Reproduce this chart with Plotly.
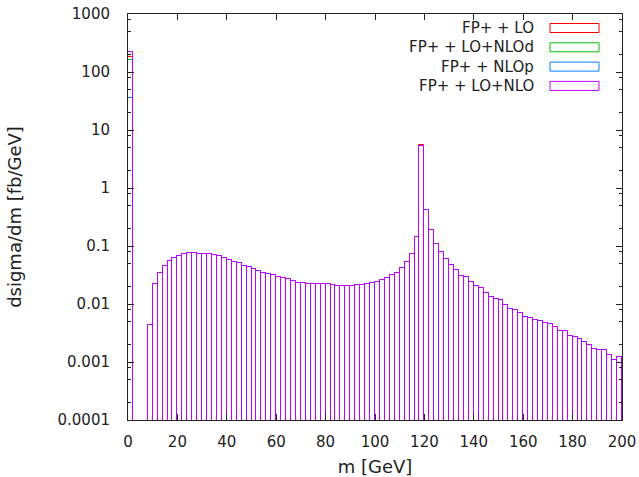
import plotly.graph_objects as go

# histogram: 2 GeV bins from 0 to 200 GeV, bin centres
mass = [1 + 2 * i for i in range(100)]

# FP++ LO+NLO (drawn on top, hides the other three nearly everywhere)
lo_nlo = [
    218, None, None, None, 0.0043, 0.0221, 0.0342, 0.0457, 0.0551, 0.0621,
    0.068, 0.0728, 0.0757, 0.0768, 0.0737, 0.0737, 0.0718, 0.0699, 0.0662, 0.0621,
    0.0563, 0.0535, 0.0503, 0.0457, 0.044, 0.0406, 0.037, 0.0347, 0.0329, 0.0311,
    0.0292, 0.0277, 0.0266, 0.0246, 0.0233, 0.0227, 0.0222, 0.0218, 0.0218, 0.0218,
    0.0217, 0.0216, 0.0208, 0.0207, 0.0206, 0.0207, 0.0209, 0.0215, 0.0224, 0.0233,
    0.0242, 0.026, 0.0281, 0.0311, 0.0342, 0.0411, 0.052, 0.0737, 0.145, 5.2,
    0.418, 0.188, 0.110, 0.0788, 0.0604, 0.0476, 0.038, 0.0304, 0.0292, 0.0239,
    0.0204, 0.0186, 0.0157, 0.013, 0.012, 0.0115, 0.0096, 0.0083, 0.0079, 0.0071,
    0.006, 0.0057, 0.0052, 0.005, 0.0047, 0.0046, 0.004, 0.0034, 0.0034, 0.0028,
    0.0027, 0.0025, 0.0022, 0.002, 0.0017, 0.0016, 0.0016, 0.0013, 0.0011, 0.0012,
]

# the other curves only show where they stick out: first bin and the peak
lo = list(lo_nlo)
lo[0], lo[59] = 181, 5.45
lo_nlod = list(lo_nlo)
lo_nlod[0], lo_nlod[59] = 158, 5.4
nlop = list(lo_nlo)
nlop[0] = 35

series = [
    ("FP+ + LO", lo, "#ff0000"),
    ("FP+ + LO+NLOd", lo_nlod, "#00c000"),
    ("FP+ + NLOp", nlop, "#0080ff"),
    ("FP+ + LO+NLO", lo_nlo, "#c000ff"),
]

y_ticks = [1e-4, 1e-3, 1e-2, 1e-1, 1, 10, 100, 1000]
y_ticktext = ["0.0001", "0.001", "0.01", "0.1", "1", "10", "100", "1000"]
x_ticks = [0, 20, 40, 60, 80, 100, 120, 140, 160, 180, 200]

W, H = 639, 477
L, R, T, B = 128, 17, 14, 57   # plot box
INK = "#222222"
FONT = "DejaVu Sans, Arial, sans-serif"


def px(x):
    return (x - L) / (W - L - R)


def py(y):
    return (H - B - y) / (H - T - B)


fig = go.Figure()
for name, vals, col in series:
    fig.add_trace(go.Bar(
        x=mass, y=vals, width=2, name=name,
        marker=dict(color="rgba(0,0,0,0)", line=dict(color=col, width=1)),
        showlegend=False,
    ))

# gnuplot-style key: text right-aligned, sample box to the right
shapes = []
annotations = []
for i, (name, _, col) in enumerate(series):
    yc = 28 + 19.3 * i
    annotations.append(dict(
        x=px(536), y=py(yc), xref="paper", yref="paper", text=name,
        showarrow=False, xanchor="right", yanchor="middle",
        font=dict(size=15, color=INK),
    ))
    shapes.append(dict(
        type="rect", xref="paper", yref="paper",
        x0=px(550), x1=px(599), y0=py(yc + 4.5), y1=py(yc - 4.5),
        line=dict(color=col, width=1), fillcolor="rgba(0,0,0,0)",
    ))

minor_vals = [m * 10 ** e for e in range(-4, 3) for m in (2, 5, 8)]

fig.update_layout(
    width=W, height=H,
    margin=dict(l=L, r=R, t=T, b=B),
    plot_bgcolor="white", paper_bgcolor="white",
    font=dict(family=FONT, size=15, color=INK),
    barmode="overlay", bargap=0,
    shapes=shapes, annotations=annotations,
)
fig.update_xaxes(
    range=[0, 200], tickvals=x_ticks, ticks="inside", ticklen=6,
    tickcolor=INK, showline=True, linecolor=INK, linewidth=1, mirror="ticks",
    showgrid=False, zeroline=False, ticklabelstandoff=8, automargin=False,
    ticklabeloverflow="allow",
    title=dict(text="m [GeV]", standoff=14),
)
fig.update_yaxes(
    type="log", range=[-4, 3], tickvals=y_ticks, ticktext=y_ticktext,
    ticks="inside", ticklen=6, tickcolor=INK,
    minor=dict(tickmode="array", tickvals=minor_vals, ticks="inside",
               ticklen=3, tickcolor=INK),
    showline=True, linecolor=INK, linewidth=1, mirror="ticks",
    showgrid=False, zeroline=False, ticklabelstandoff=14, automargin=False,
    ticklabeloverflow="allow",
    title=dict(text="dsigma/dm [fb/GeV]", standoff=31),
)

# drop the default 8px page margin so the figure fills the window
fig.write_html("out.html", config={"displayModeBar": False},
               post_script="document.body.style.margin = '0';")
